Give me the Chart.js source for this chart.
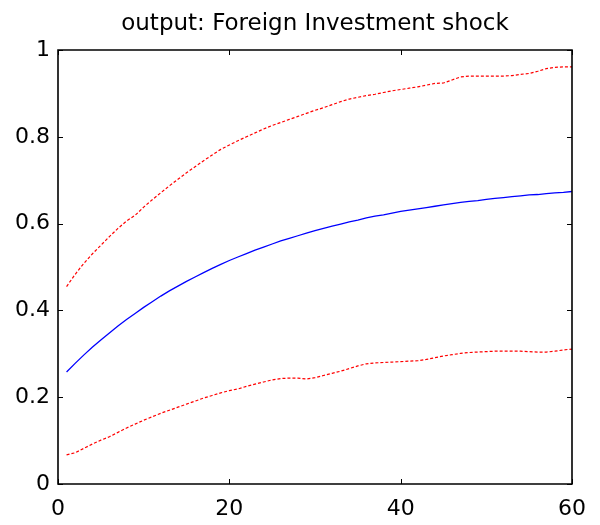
<!DOCTYPE html>
<html>
<head>
<meta charset="utf-8">
<script src="https://cdn.jsdelivr.net/npm/chart.js@4"></script>
<style>
html,body{margin:0;padding:0;background:#fff;}
#wrap{width:600px;height:525px;}
</style>
</head>
<body>
<div id="wrap"><canvas id="c" width="600" height="525"></canvas></div>
<script>
const titleText = "output: Foreign Investment shock";
const periods = [1,2,3,4,5,6,7,8,9,10,11,12,13,14,15,16,17,18,19,20,21,22,23,24,25,26,27,28,29,30,31,32,33,34,35,36,37,38,39,40,41,42,43,44,45,46,47,48,49,50,51,52,53,54,55,56,57,58,59,60];
const response = [0.258,0.278,0.297,0.315,0.332,0.348,0.364,0.379,0.393,0.407,0.420,0.433,0.445,0.456,0.467,0.477,0.487,0.497,0.506,0.515,0.523,0.531,0.539,0.546,0.553,0.560,0.566,0.572,0.578,0.584,0.589,0.594,0.599,0.604,0.608,0.613,0.617,0.620,0.624,0.628,0.631,0.634,0.637,0.640,0.643,0.646,0.649,0.651,0.653,0.656,0.658,0.660,0.662,0.664,0.666,0.667,0.669,0.671,0.672,0.674];
const upperBand = [0.455,0.483,0.508,0.530,0.550,0.570,0.589,0.606,0.619,0.638,0.655,0.671,0.687,0.702,0.717,0.731,0.745,0.758,0.771,0.781,0.791,0.800,0.809,0.818,0.826,0.833,0.840,0.847,0.854,0.861,0.867,0.874,0.881,0.887,0.891,0.895,0.898,0.902,0.906,0.909,0.912,0.915,0.919,0.923,0.924,0.931,0.938,0.940,0.940,0.940,0.940,0.940,0.941,0.944,0.946,0.951,0.957,0.960,0.961,0.961];
const lowerBand = [0.067,0.072,0.082,0.092,0.101,0.109,0.119,0.129,0.138,0.147,0.155,0.163,0.170,0.177,0.184,0.191,0.198,0.204,0.210,0.215,0.219,0.225,0.230,0.235,0.240,0.243,0.244,0.244,0.242,0.245,0.250,0.255,0.260,0.266,0.272,0.277,0.279,0.280,0.281,0.282,0.283,0.284,0.287,0.291,0.295,0.298,0.301,0.303,0.304,0.305,0.306,0.306,0.306,0.306,0.305,0.304,0.304,0.306,0.309,0.311];
const xTicks = [0,20,40,60];
const yTicks = [0,0.2,0.4,0.6,0.8,1];

const pts = arr => periods.map((p,i)=>({x:p,y:arr[i]}));
const FONT = '"DejaVu Sans", "Liberation Sans", Arial, sans-serif';

const boxPlugin = {
  id:'boxTicks',
  afterDatasetsDraw(chart){
    const {ctx, chartArea:a, scales:{x,y}} = chart;
    ctx.save();
    ctx.strokeStyle = '#000';
    ctx.lineWidth = 1.6;
    ctx.beginPath();
    ctx.rect(a.left, a.top, a.right-a.left, a.bottom-a.top);
    ctx.stroke();
    ctx.lineWidth = 1;
    const L = 5;
    ctx.beginPath();
    xTicks.forEach(t=>{
      const px = Math.round(x.getPixelForValue(t))+0.5;
      ctx.moveTo(px,a.bottom); ctx.lineTo(px,a.bottom-L);
      ctx.moveTo(px,a.top); ctx.lineTo(px,a.top+L);
    });
    yTicks.forEach(t=>{
      const py = Math.round(y.getPixelForValue(t))+0.5;
      ctx.moveTo(a.left,py); ctx.lineTo(a.left+L,py);
      ctx.moveTo(a.right,py); ctx.lineTo(a.right-L,py);
    });
    ctx.stroke();
    ctx.restore();
  }
};

new Chart(document.getElementById('c'), {
  type:'line',
  data:{
    datasets:[
      {data:pts(upperBand), borderColor:'#ff0000', borderWidth:1.2, borderDash:[3,2], pointRadius:0, fill:false, tension:0},
      {data:pts(response), borderColor:'#0000ff', borderWidth:1.3, pointRadius:0, fill:false, tension:0},
      {data:pts(lowerBand), borderColor:'#ff0000', borderWidth:1.2, borderDash:[3,2], pointRadius:0, fill:false, tension:0}
    ]
  },
  options:{
    responsive:false,
    animation:false,
    layout:{padding:{left:0,right:28,top:0,bottom:0}},
    plugins:{
      legend:{display:false},
      tooltip:{enabled:false},
      title:{display:true, fullSize:false, text:titleText, color:'#000',
        font:{family:FONT, size:23, weight:'normal', lineHeight:1.2},
        padding:{top:10, bottom:12.4}}
    },
    scales:{
      x:{type:'linear', min:0, max:60,
        grid:{display:false, drawTicks:false},
        border:{display:false},
        afterBuildTicks(s){ s.ticks = xTicks.map(v=>({value:v})); },
        afterFit(s){ s.height = 41; },
        ticks:{color:'#000', padding:12, maxRotation:0, autoSkip:false,
          font:{family:FONT, size:22}}
      },
      y:{type:'linear', min:0, max:1,
        grid:{display:false, drawTicks:false},
        border:{display:false},
        afterBuildTicks(s){ s.ticks = yTicks.map(v=>({value:v})); },
        afterFit(s){ s.width = 58; },
        ticks:{color:'#000', padding:8, autoSkip:false,
          callback:v=>String(Math.round(v*10)/10),
          font:{family:FONT, size:22}}
      }
    }
  },
  plugins:[boxPlugin]
});
</script>
</body>
</html>
